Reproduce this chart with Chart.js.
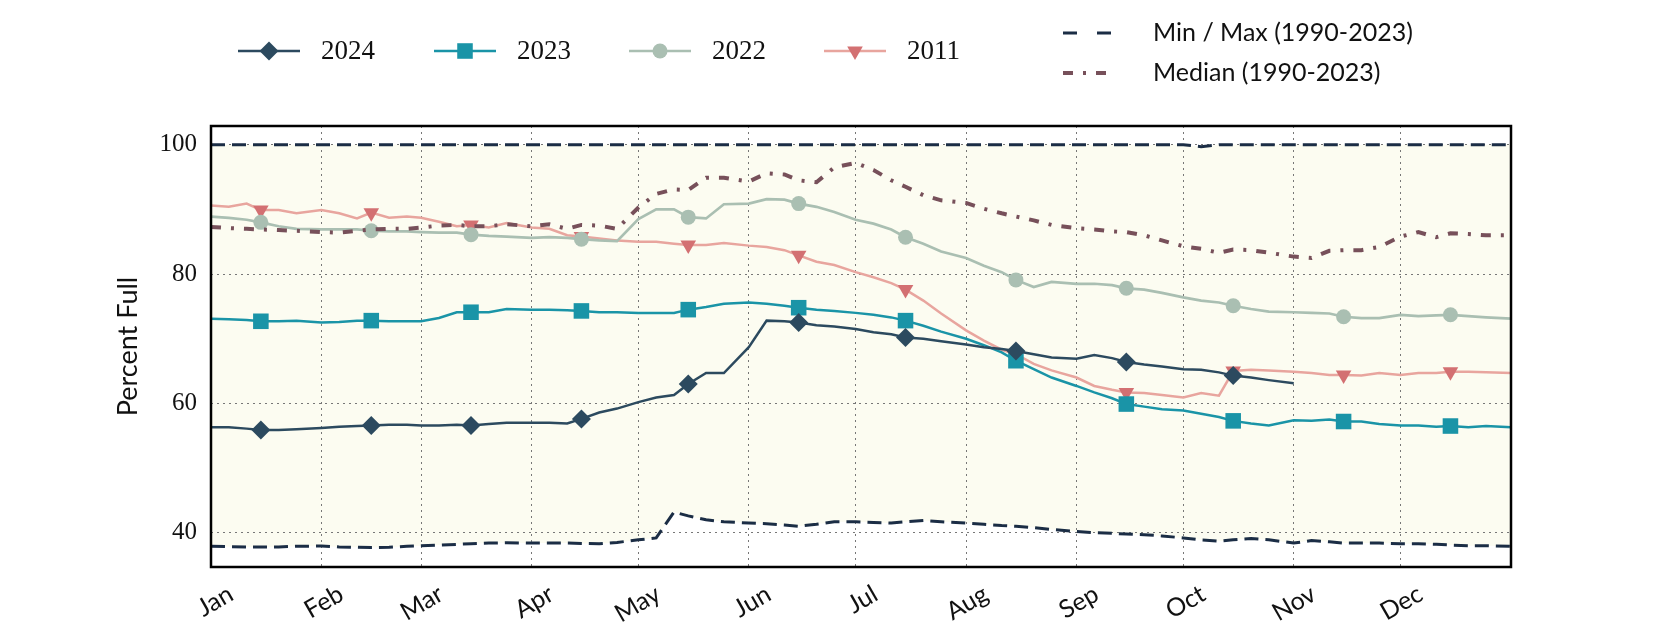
<!DOCTYPE html>
<html>
<head>
<meta charset="utf-8">
<script src="https://cdn.jsdelivr.net/npm/chart.js@4.4.1/dist/chart.umd.min.js"></script>
<style>
  html, body { margin: 0; padding: 0; background: #fff; }
</style>
</head>
<body>
<canvas id="grafico" width="1680" height="630"></canvas>
<script>
// eixo x: dias do ano
const monthNames = ['Jan', 'Feb', 'Mar', 'Apr', 'May', 'Jun', 'Jul', 'Aug', 'Sep', 'Oct', 'Nov', 'Dec'];
const monthStarts = [0, 31, 59, 90, 120, 151, 181, 212, 243, 273, 304, 334];
const yTicks = [40, 60, 80, 100];

const days = [
  0, 5, 10, 14, 19, 24,
  31, 36, 41, 45, 50, 55,
  59, 64, 69, 73, 78, 83,
  90, 95, 100, 104, 109, 114,
  120, 125, 130, 134, 139, 144,
  151, 156, 161, 165, 170, 175,
  181, 186, 191, 195, 200, 205,
  212, 217, 222, 226, 231, 236,
  243, 248, 253, 257, 262, 267,
  273, 278, 283, 287, 292, 297,
  304, 309, 314, 318, 323, 328,
  334, 339, 344, 348, 353, 358,
  365
];
// marcadores no dia 15 de cada mes
const markerDays = [14, 45, 73, 104, 134, 165, 195, 226, 257, 287, 318, 348];

const y2024 = [
  56.3, 56.3, 56.1, 55.9, 55.9, 56.0,
  56.2, 56.4, 56.5, 56.6, 56.7, 56.7,
  56.6, 56.6, 56.7, 56.6, 56.8, 57.0,
  57.0, 57.0, 56.9, 57.6, 58.6, 59.2,
  60.2, 60.9, 61.3, 63.0, 64.7, 64.7,
  68.7, 72.8, 72.7, 72.5, 72.1, 71.9,
  71.5, 71.0, 70.7, 70.2, 70.0, 69.6,
  69.1, 68.7, 68.4, 68.1, 67.6, 67.1,
  66.9, 67.5, 67.0, 66.4, 66.0, 65.7,
  65.3, 65.2, 64.8, 64.3, 64.0, 63.6,
  63.1, null, null, null, null, null,
  null, null, null, null, null, null,
  null
];
const y2023 = [
  73.1, 73.0, 72.9, 72.7, 72.7, 72.8,
  72.5, 72.6, 72.8, 72.8, 72.7, 72.7,
  72.7, 73.2, 74.1, 74.1, 74.1, 74.6,
  74.5, 74.5, 74.4, 74.3, 74.1, 74.1,
  74.0, 74.0, 74.0, 74.5, 74.9, 75.4,
  75.6, 75.4, 75.1, 74.8, 74.5, 74.3,
  74.0, 73.7, 73.3, 72.8, 72.0, 71.1,
  70.0, 69.0, 67.9, 66.6, 65.3, 64.0,
  62.7, 61.7, 60.8, 59.9, 59.5, 59.1,
  58.9, 58.4, 57.9, 57.3, 56.9, 56.6,
  57.4, 57.3, 57.5, 57.2, 57.2, 56.8,
  56.6, 56.6, 56.4, 56.5, 56.3, 56.5,
  56.3
];
const y2022 = [
  88.9, 88.7, 88.4, 88.0, 87.4, 87.0,
  86.9, 86.9, 86.9, 86.7, 86.6, 86.6,
  86.5, 86.4, 86.4, 86.1, 85.9, 85.8,
  85.6, 85.7, 85.6, 85.4, 85.2, 85.1,
  88.5, 90.0, 90.0, 88.8, 88.6, 90.8,
  90.9, 91.6, 91.5, 90.9, 90.4, 89.6,
  88.4, 87.8, 86.9, 85.7, 84.7, 83.5,
  82.5, 81.3, 80.3, 79.1, 78.0, 78.8,
  78.5, 78.5, 78.3, 77.8, 77.6, 77.1,
  76.4, 75.9, 75.6, 75.1, 74.6, 74.2,
  74.1, 74.0, 73.9, 73.4, 73.2, 73.2,
  73.7, 73.5, 73.6, 73.7, 73.5, 73.3,
  73.1
];
const y2011 = [
  90.6, 90.4, 90.9, 89.9, 89.9, 89.4,
  89.9, 89.4, 88.6, 89.5, 88.7, 88.9,
  88.7, 88.1, 87.4, 87.6, 87.2, 87.9,
  87.2, 87.0, 86.0, 85.8, 85.5, 85.2,
  85.0, 85.0, 84.7, 84.5, 84.5, 84.8,
  84.4, 84.2, 83.7, 82.9, 81.9, 81.4,
  80.3, 79.5, 78.6, 77.6, 75.9, 73.9,
  71.3, 69.7, 68.3, 67.6, 66.1, 65.1,
  64.0, 62.7, 62.1, 61.7, 61.6, 61.3,
  60.9, 61.6, 61.2, 65.0, 65.2, 65.1,
  64.9, 64.7, 64.4, 64.4, 64.3, 64.7,
  64.4, 64.7, 64.7, 64.9, 64.9, 64.8,
  64.7
];
const yMedian = [
  87.3, 87.1, 87.0, 86.9, 86.8, 86.7,
  86.5, 86.4, 86.7, 86.9, 87.0, 87.0,
  87.2, 87.5, 87.6, 87.4, 87.4, 87.7,
  87.4, 87.7, 87.0, 87.6, 87.5, 87.0,
  90.3, 92.4, 93.1, 93.0, 94.9, 94.9,
  94.3, 95.6, 95.4, 94.5, 94.2, 96.5,
  97.2, 96.1, 94.5, 93.5, 92.2, 91.4,
  91.0, 90.1, 89.4, 88.9, 88.3, 87.6,
  87.1, 86.9, 86.6, 86.5, 86.0, 85.2,
  84.3, 83.9, 83.3, 83.8, 83.7, 83.3,
  82.7, 82.5, 83.6, 83.7, 83.7, 84.2,
  85.8, 86.5, 85.7, 86.3, 86.2, 86.0,
  86.0
];
const yMax = [
  100, 100, 100, 100, 100, 100,
  100, 100, 100, 100, 100, 100,
  100, 100, 100, 100, 100, 100,
  100, 100, 100, 100, 100, 100,
  100, 100, 100, 100, 100, 100,
  100, 100, 100, 100, 100, 100,
  100, 100, 100, 100, 100, 100,
  100, 100, 100, 100, 100, 100,
  100, 100, 100, 100, 100, 100,
  100, 99.7, 100, 100, 100, 100,
  100, 100, 100, 100, 100, 100,
  100, 100, 100, 100, 100, 100,
  100
];
const yMin = [
  37.9, 37.85, 37.8, 37.8, 37.8, 37.9,
  37.95, 37.8, 37.75, 37.7, 37.75, 37.9,
  38.0, 38.1, 38.2, 38.3, 38.4, 38.45,
  38.4, 38.4, 38.4, 38.35, 38.3, 38.5,
  38.9, 39.2, 43.2, 42.6, 42.0, 41.7,
  41.5, 41.4, 41.2, 41.0, 41.3, 41.7,
  41.7, 41.6, 41.5, 41.7, 41.9, 41.7,
  41.5, 41.3, 41.1, 41.0, 40.8, 40.5,
  40.2, 40.0, 39.9, 39.8, 39.7, 39.5,
  39.2, 38.9, 38.7, 38.9, 39.1, 38.9,
  38.4, 38.8, 38.6, 38.4, 38.4, 38.4,
  38.3, 38.3, 38.2, 38.1, 38.0, 38.0,
  37.9
];

const cor2024 = '#2c4a5f';
const cor2023 = '#1a94a7';
const cor2022 = '#aabfb2';
const cor2011 = '#e8a59e';
const cor2011Marker = '#d37072';
const corMediana = '#77505a';
const corMinMax = '#1b2d45';
const corFundo = '#fcfcf1';

function pontos(vals) {
    return days.map((d, i) => ({ x: d, y: vals[i] }));
}

function raio(r) {
    return (ctx) => markerDays.includes(days[ctx.dataIndex]) ? r : 0;
}

function desenhaMarcador(ctx, estilo, x, y, r, cor) {
    ctx.save();
    ctx.fillStyle = cor;
    ctx.beginPath();
    if (estilo === 'rectRot') {
        ctx.moveTo(x - r, y); ctx.lineTo(x, y - r); ctx.lineTo(x + r, y); ctx.lineTo(x, y + r);
    } else if (estilo === 'rect') {
        const s = Math.SQRT1_2 * r;
        ctx.rect(x - s, y - s, 2 * s, 2 * s);
    } else if (estilo === 'circle') {
        ctx.arc(x, y, r, 0, Math.PI * 2);
    } else if (estilo === 'triangleDown') {
        const w = r * Math.sqrt(3) / 2;
        ctx.moveTo(x - w, y - r / 2); ctx.lineTo(x + w, y - r / 2); ctx.lineTo(x, y + r);
    }
    ctx.closePath();
    ctx.fill();
    ctx.restore();
}

const legendaAnos = [
    { texto: '2024', cor: cor2024, marcador: cor2024, estilo: 'rectRot', r: 9.5, x: 238 },
    { texto: '2023', cor: cor2023, marcador: cor2023, estilo: 'rect', r: 11, x: 434 },
    { texto: '2022', cor: cor2022, marcador: cor2022, estilo: 'circle', r: 7.5, x: 629 },
    { texto: '2011', cor: cor2011, marcador: cor2011Marker, estilo: 'triangleDown', r: 9, x: 824 }
];

const pluginLegenda = {
    id: 'legendaCustom',
    afterDraw(chart) {
        const ctx = chart.ctx;
        ctx.save();
        ctx.textBaseline = 'middle';
        ctx.fillStyle = '#111';
        legendaAnos.forEach(item => {
            const y = 51;
            ctx.strokeStyle = item.cor;
            ctx.lineWidth = 2.6;
            ctx.setLineDash([]);
            ctx.beginPath(); ctx.moveTo(item.x, y); ctx.lineTo(item.x + 62, y); ctx.stroke();
            desenhaMarcador(ctx, item.estilo, item.x + 31, y, item.r, item.marcador);
            ctx.fillStyle = '#111';
            ctx.font = '27px "Liberation Serif"';
            ctx.fillText(item.texto, item.x + 83, y + 1);
        });
        // min / max
        ctx.strokeStyle = corMinMax;
        ctx.lineWidth = 3;
        ctx.setLineDash([14, 20]);
        ctx.beginPath(); ctx.moveTo(1063, 33); ctx.lineTo(1112, 33); ctx.stroke();
        // mediana
        ctx.strokeStyle = corMediana;
        ctx.lineWidth = 4;
        ctx.setLineDash([10, 10, 3, 10]);
        ctx.beginPath(); ctx.moveTo(1063, 73); ctx.lineTo(1108, 73); ctx.stroke();
        ctx.setLineDash([]);
        ctx.fillStyle = '#111';
        ctx.font = '25px Lato';
        ctx.fillText('Min / Max (1990-2023)', 1153, 33);
        ctx.fillText('Median (1990-2023)', 1153, 73);
        ctx.restore();
    }
};

const pluginMoldura = {
    id: 'moldura',
    afterDatasetsDraw(chart) {
        const a = chart.chartArea;
        const ctx = chart.ctx;
        ctx.save();
        ctx.strokeStyle = '#000';
        ctx.lineWidth = 2.5;
        ctx.strokeRect(a.left, a.top, a.right - a.left, a.bottom - a.top);
        ctx.restore();
    }
};

const linha = {
    tension: 0,
    pointBorderWidth: 0,
    pointHoverRadius: 0,
    spanGaps: false
};

let primeiroGrafico = document.getElementById('grafico').getContext('2d');

let chart = new Chart(primeiroGrafico, {
    type: 'line',
    data: {
        datasets: [
            {
                ...linha,
                label: 'Median (1990-2023)',
                data: pontos(yMedian),
                borderColor: corMediana,
                borderWidth: 4,
                borderDash: [10, 10, 3, 10],
                pointRadius: 0,
                fill: false
            },
            {
                ...linha,
                label: '2024',
                data: pontos(y2024),
                borderColor: cor2024,
                backgroundColor: cor2024,
                borderWidth: 2.5,
                pointStyle: 'rectRot',
                pointRadius: raio(9.5),
                fill: false
            },
            {
                ...linha,
                label: '2023',
                data: pontos(y2023),
                borderColor: cor2023,
                backgroundColor: cor2023,
                borderWidth: 2.5,
                pointStyle: 'rect',
                pointRadius: raio(11),
                fill: false
            },
            {
                ...linha,
                label: '2022',
                data: pontos(y2022),
                borderColor: cor2022,
                backgroundColor: cor2022,
                borderWidth: 2.7,
                pointStyle: 'circle',
                pointRadius: raio(7.5),
                fill: false
            },
            {
                ...linha,
                label: '2011',
                data: pontos(y2011),
                borderColor: cor2011,
                backgroundColor: cor2011Marker,
                borderWidth: 2.5,
                pointStyle: 'triangle',
                pointRotation: 180,
                pointRadius: raio(9),
                fill: false
            },
            {
                ...linha,
                label: 'Max',
                data: pontos(yMax),
                borderColor: corMinMax,
                backgroundColor: corFundo,
                borderWidth: 3,
                borderDash: [14, 7],
                pointRadius: 0,
                fill: '+1'
            },
            {
                ...linha,
                label: 'Min',
                data: pontos(yMin),
                borderColor: corMinMax,
                borderWidth: 3,
                borderDash: [14, 7],
                pointRadius: 0,
                fill: false
            }
        ]
    },
    options: {
        responsive: false,
        animation: false,
        devicePixelRatio: 1,
        events: [],
        layout: { padding: { left: 100, right: 169, top: 126, bottom: 0 } },
        plugins: {
            legend: { display: false },
            tooltip: { enabled: false },
            filler: { drawTime: 'beforeDraw' }
        },
        scales: {
            x: {
                type: 'linear',
                min: 0,
                max: 365,
                afterBuildTicks: (scale) => { scale.ticks = monthStarts.map(v => ({ value: v })); },
                afterFit: (scale) => { scale.height = 63; },
                grid: { color: '#777', lineWidth: 1, drawTicks: false },
                border: { display: false, dash: [2, 4] },
                ticks: {
                    callback: (v) => monthNames[monthStarts.indexOf(v)],
                    minRotation: 30,
                    maxRotation: 30,
                    padding: 12,
                    labelOffset: 20,
                    color: '#111',
                    font: { family: 'Lato', size: 25 }
                }
            },
            y: {
                min: 34.7,
                max: 102.9,
                afterBuildTicks: (scale) => { scale.ticks = yTicks.map(v => ({ value: v })); },
                afterFit: (scale) => { scale.width = 111; },
                grid: { color: '#777', lineWidth: 1, drawTicks: false },
                border: { display: false, dash: [2, 4] },
                title: {
                    display: true,
                    text: 'Percent Full',
                    color: '#111',
                    padding: { top: 12, bottom: 0 },
                    font: { family: 'Lato', size: 27 }
                },
                ticks: {
                    padding: 14,
                    color: '#111',
                    font: { family: 'Liberation Serif', size: 25 }
                }
            }
        }
    },
    plugins: [pluginLegenda, pluginMoldura]
});
</script>
</body>
</html>
